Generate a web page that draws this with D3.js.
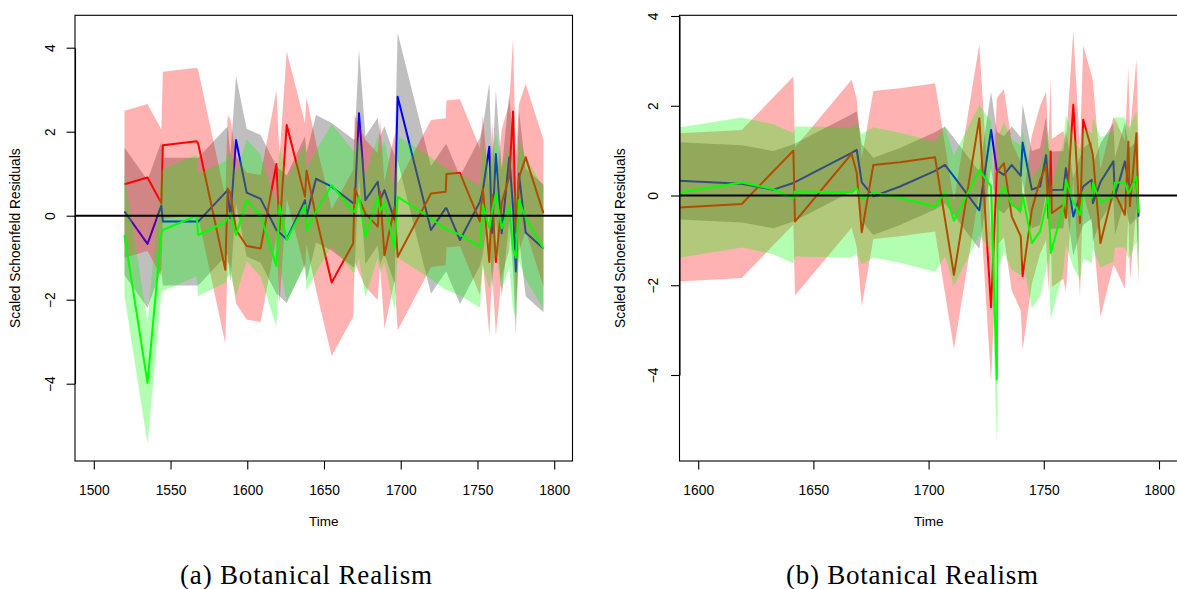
<!DOCTYPE html>
<html>
<head>
<meta charset="utf-8">
<script src="https://cdn.jsdelivr.net/npm/d3@7/dist/d3.min.js"></script>
<style>
  body { margin: 0; background: #fff; }
  svg { display: block; }
</style>
</head>
<body>
<svg id="chart" width="1177" height="589"></svg>
<script>
// ---- data: panel (a) ----
const LEFT_T = [1520, 1535, 1544, 1545, 1567, 1568, 1585.7, 1587.2, 1589, 1592.7, 1599.6, 1608.7,
  1619, 1621, 1625.7, 1637.6, 1638.6, 1644.8, 1655, 1669, 1670, 1672.8, 1677, 1685, 1686.5, 1689.4,
  1696, 1698, 1719.7, 1729.3, 1729.8, 1738.6, 1751.6, 1753.5, 1757.7, 1759.5, 1762, 1765.8, 1770.7,
  1773.2, 1775, 1777, 1781.4, 1793];
const LEFT_BLUE = [0.1, -0.67, 0.24, -0.14, -0.14, -0.14, 0.55, 0.6, -0.06, 1.8, 0.55, 0.4,
  -0.34, -0.4, -0.56, 0.37, -0.02, 0.88, 0.69, 0.3, 0.3, 2.44, 0.37, 0.81, 0.37, 0.61,
  -0.1, 2.83, -0.34, 0.18, 0.18, -0.58, 0.33, 0.6, 1.64, -0.41, 1.47, -0.42, 1.39,
  0.2, -1.33, 1.0, -0.4, -0.78];
const LEFT_RED = [0.75, 0.91, 0.3, 1.68, 1.77, 1.72, -1.29, 0.65, 0.54, -0.34, -0.72, -0.78,
  1.23, -0.34, 2.16, 0.45, 1.07, -0.02, -1.59, -0.66, 0.65, 0.4, 0.05, -0.26, 0.57, -0.94,
  0.21, -0.98, 0.53, 0.57, 0.99, 1.02, -0.14, 0.65, -1.1, 0.5, -1.1, 0.3, 0.93,
  2.48, -0.4, 0.9, 1.39, 0.06];
const LEFT_GREEN = [-0.46, -3.98, -0.42, -0.34, 0.0, -0.46, -0.15, -0.02, 0.06, -0.46, 0.37, 0.0,
  -1.2, 0.25, -0.58, 0.25, -0.34, 0.1, 0.73, 0.1, 0.1, 0.45, -0.5, 0.45, 0.1, 0.33,
  -0.8, 0.45, -0.06, -0.32, -0.32, -0.45, -0.74, 0.25, -0.3, 0.1, 0.53, -0.3, 0.21,
  -0.78, -1.0, 0.37, -0.06, -0.78];
// half-width of each confidence band
const LEFT_HW = [1.52, 1.75, 1.45];   // blue, red, green

// ---- data: panel (b) ----
const RIGHT_T = [1590, 1618.9, 1632.6, 1641.3, 1642, 1666.6, 1668.8, 1671, 1676, 1687.6,
  1702.8, 1707.1, 1711.0, 1722.0, 1727.1, 1729.6, 1730.0, 1732.7, 1736.1, 1740.0,
  1740.8, 1744.8, 1748.4, 1751.0, 1752.0, 1753.0, 1753.5, 1758.5, 1759.6, 1762.8,
  1765.7, 1767.1, 1770.8, 1771.3, 1774.6, 1780.2, 1780.9, 1785.2, 1786.7, 1787.4,
  1790.2, 1791.1];
const RIGHT_BLUE = [0.33, 0.26, 0.13, 0.28, 0.3, 0.95, 1.02, 0.29, -0.02, 0.2,
  0.55, 0.68, 0.42, -0.33, 1.46, 0.57, 0.55, 0.46, 0.68, 0.44,
  1.18, 0.13, 0.2, 0.9, 0.2, 0.1, 0.12, 0.13, 0.61, -0.47,
  0.0, 0.2, 0.35, -0.17, 0.3, 0.76, -0.02, 0.76, 0.3, 0.2,
  0.35, -0.47];
const RIGHT_RED = [-0.27, -0.19, 0.54, 1.0, -0.58, 0.93, 0.5, -0.82, 0.68, 0.74,
  0.85, -0.52, -1.77, 1.72, -2.49, 0.5, 0.55, 0.72, -0.47, -0.91,
  -1.8, -0.32, 0.35, 0.66, -0.5, 0.98, -0.39, -0.21, -0.5, 2.02,
  -0.61, 1.69, 1.02, 0.9, -1.06, 0.1, 0.05, -0.43, 1.2, -0.24,
  1.39, -0.4];
const RIGHT_GREEN = [0.05, 0.29, 0.14, -0.06, 0.09, 0.07, 0.16, -0.08, 0.07, -0.05,
  -0.25, 0.09, -0.56, 0.57, 0.2, -4.1, -0.17, 0.19, -0.21, -0.33,
  0.02, -1.06, -0.8, -0.21, 0.02, -1.28, -1.2, -0.24, 0.35, -0.15,
  -0.43, 0.05, -0.06, 0.28, -0.16, -0.02, 0.29, 0.29, 0.05, 0.1,
  0.42, -0.39];
const RIGHT_HW = [0.86, 1.65, 1.45];

const Y_TICKS = [-4, -2, 0, 2, 4];
const LEFT_X_TICKS = [1500, 1550, 1600, 1650, 1700, 1750, 1800];
const RIGHT_X_TICKS = [1600, 1650, 1700, 1750, 1800];

// drawing order matters: gray band + blue line, then pink + red, then green on top
const STYLES = [
  { band: 'rgba(0,0,0,0.25)',   line: '#0000ff' },
  { band: 'rgba(255,0,0,0.3)',  line: '#ff0000' },
  { band: 'rgba(0,255,0,0.3)',  line: '#00ff00' },
];

const FONT = 'Liberation Sans, Arial, sans-serif';
const svg = d3.select('#chart');

const PANELS = [
  {
    id: 'a', t: LEFT_T, series: [LEFT_BLUE, LEFT_RED, LEFT_GREEN], hw: LEFT_HW,
    xTicks: LEFT_X_TICKS, xDom: [1500, 1800], xPx: [93.8, 554.2],
    yPx: [383.7, 47.7],
    box: { l: 75, r: 572.5, t: 15.3, b: 461 },
    yLabelOff: -25, yTitleX: 15, caption: '(a) Botanical Realism', capX: 306,
  },
  {
    id: 'b', t: RIGHT_T, series: [RIGHT_BLUE, RIGHT_RED, RIGHT_GREEN], hw: RIGHT_HW,
    xTicks: RIGHT_X_TICKS, xDom: [1600, 1800], xPx: [698.2, 1159],
    yPx: [375, 16],
    box: { l: 679.5, r: 1178, t: 15.3, b: 461 },
    yLabelOff: -26.5, yTitleX: 620, caption: '(b) Botanical Realism', capX: 912,
  },
];

PANELS.forEach(drawPanel);

function drawPanel(p) {
  const x = d3.scaleLinear().domain(p.xDom).range(p.xPx);
  const y = d3.scaleLinear().domain([-4, 4]).range(p.yPx);
  const { l, r, t, b } = p.box;

  const clipId = `clip-${p.id}`;
  svg.append('clipPath').attr('id', clipId)
    .append('rect').attr('x', l).attr('y', t).attr('width', r - l).attr('height', b - t);

  const plot = svg.append('g').attr('clip-path', `url(#${clipId})`);

  p.series.forEach((vals, si) => {
    const rows = p.t.map((tt, i) => ({ t: tt, v: vals[i] }));
    const hw = p.hw[si];
    const area = d3.area()
      .x(d => x(d.t))
      .y0(d => y(d.v - hw))
      .y1(d => y(d.v + hw));
    const line = d3.line().x(d => x(d.t)).y(d => y(d.v));

    plot.append('path').datum(rows)
      .attr('d', area)
      .attr('fill', STYLES[si].band)
      .attr('stroke', 'none');
    plot.append('path').datum(rows)
      .attr('d', line)
      .attr('fill', 'none')
      .attr('stroke', STYLES[si].line)
      .attr('stroke-width', 2)
      .attr('stroke-linejoin', 'round');
  });

  // zero reference line
  plot.append('line')
    .attr('x1', l).attr('x2', r)
    .attr('y1', y(0)).attr('y2', y(0))
    .attr('stroke', '#000').attr('stroke-width', 2);

  // box
  svg.append('rect')
    .attr('x', l).attr('y', t).attr('width', r - l).attr('height', b - t)
    .attr('fill', 'none').attr('stroke', '#000').attr('stroke-width', 1.1);

  // x axis
  const gx = svg.append('g').attr('transform', `translate(0,${b})`)
    .call(d3.axisBottom(x).tickValues(p.xTicks).tickFormat(d3.format('d'))
      .tickSize(8.5).tickSizeOuter(0));
  gx.select('.domain').remove();
  gx.selectAll('line').attr('stroke', '#000').attr('stroke-width', 1.1);
  gx.selectAll('text')
    .attr('y', 29).attr('dy', '0.35em')
    .attr('font-family', FONT).attr('font-size', 13.8).attr('fill', '#000');

  // y axis
  const gy = svg.append('g').attr('transform', `translate(${l},0)`)
    .call(d3.axisLeft(y).tickValues(Y_TICKS).tickSize(8.5).tickSizeOuter(0));
  gy.select('.domain').attr('stroke', '#000').attr('stroke-width', 1.1);
  gy.selectAll('line').attr('stroke', '#000').attr('stroke-width', 1.1);
  gy.selectAll('text')
    .attr('x', null).attr('dy', null)
    .attr('transform', `translate(${p.yLabelOff},0) rotate(-90)`)
    .attr('text-anchor', 'middle').attr('dominant-baseline', 'central')
    .attr('font-family', FONT).attr('font-size', 13.8).attr('fill', '#000');

  // titles
  svg.append('text')
    .attr('x', (l + r) / 2).attr('y', 521)
    .attr('text-anchor', 'middle').attr('dominant-baseline', 'central')
    .attr('font-family', FONT).attr('font-size', 13.5)
    .text('Time');

  svg.append('text')
    .attr('transform', `translate(${p.yTitleX},${(t + b) / 2}) rotate(-90)`)
    .attr('text-anchor', 'middle').attr('dominant-baseline', 'central')
    .attr('font-family', FONT).attr('font-size', 13.8)
    .text('Scaled Schoenfeld Residuals');

  svg.append('text')
    .attr('x', p.capX).attr('y', 575)
    .attr('text-anchor', 'middle').attr('dominant-baseline', 'central')
    .attr('font-family', 'Liberation Serif, Times New Roman, serif').attr('font-size', 27)
    .attr('textLength', 252).attr('lengthAdjust', 'spacing')
    .text(p.caption);
}
</script>
</body>
</html>
